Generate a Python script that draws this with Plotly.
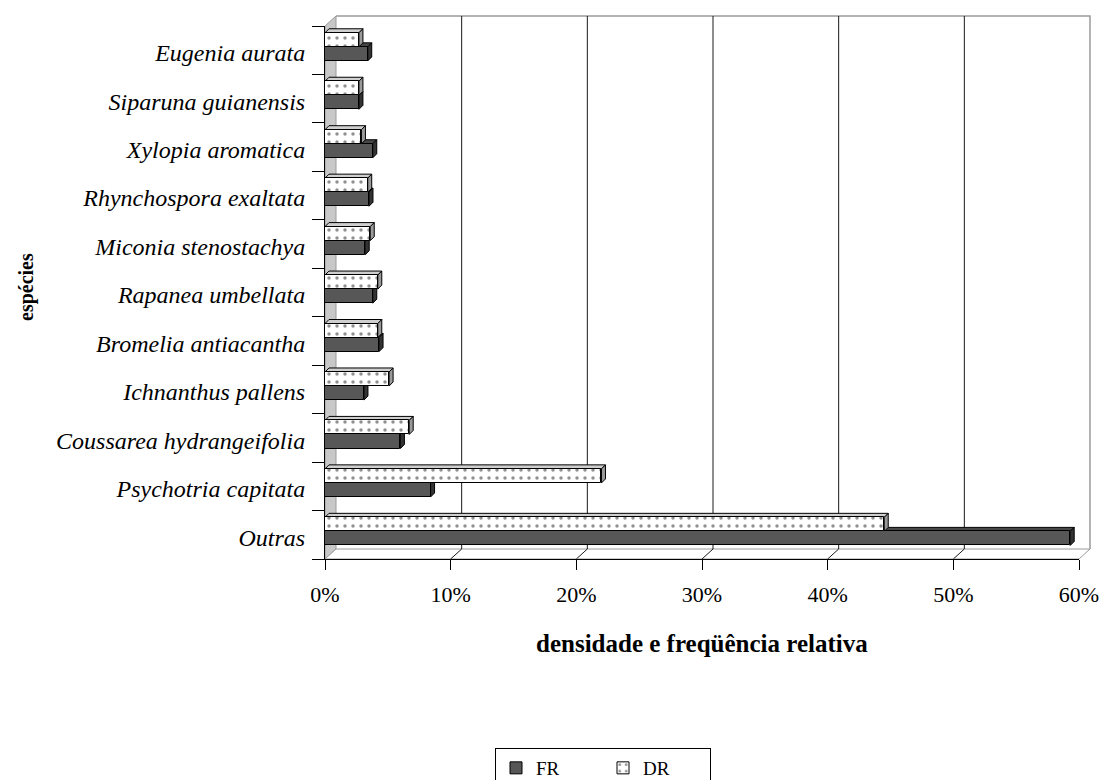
import plotly.graph_objects as go

# Species (bottom to top) and relative values in %
species = [
    "Outras", "Psychotria capitata", "Coussarea hydrangeifolia", "Ichnanthus pallens",
    "Bromelia antiacantha", "Rapanea umbellata", "Miconia stenostachya",
    "Rhynchospora exaltata", "Xylopia aromatica", "Siparuna guianensis", "Eugenia aurata",
]
fr = [59.3, 8.4, 6.0, 3.1, 4.3, 3.8, 3.2, 3.5, 3.8, 2.7, 3.4]
dr = [44.5, 22.0, 6.7, 5.1, 4.2, 4.2, 3.6, 3.4, 2.9, 2.7, 2.7]
x_ticks = [0, 10, 20, 30, 40, 50, 60]
x_tick_text = ["0%", "10%", "20%", "30%", "40%", "50%", "60%"]

# page / plot-area geometry (px)
W, H = 1102, 780
ML, MR, MT, MB = 325, 23, 26, 221
PW, PH = W - ML - MR, H - MT - MB
XMAX = 60
N = len(species)

# 3D depth of the bars and of the chart walls
BDX = 4 * XMAX / PW
BDY = 4 * N / PH
WDX = 11 / PW
WDY = 10 / PH

BAR_W = 0.29
FR_OFF = -0.075
DR_OFF = 0.215
pos = list(range(N))

FONT = "Liberation Serif"
FR_COLOR = "#575757"
FR_TOP = "#474747"
FR_SIDE = "#333333"
DR_TOP = "#cfcfcf"
DR_SIDE = "#9a9a9a"
WALL_LINE = "#9a9a9a"

fig = go.Figure()
fig.add_trace(go.Bar(
    name="FR", orientation="h", x=fr, y=[p + FR_OFF for p in pos], width=BAR_W,
    marker=dict(color=FR_COLOR, line=dict(color="black", width=1)),
))
fig.add_trace(go.Bar(
    name="DR", orientation="h", x=dr, y=[p + DR_OFF for p in pos], width=BAR_W,
    marker=dict(color="white", line=dict(color="black", width=1),
                pattern=dict(shape=".", fgcolor="#222222", bgcolor="white",
                             size=8, solidity=0.15)),
))

shapes = []

# left wall
shapes.append(dict(type="path", xref="paper", yref="paper", layer="below",
                   path=f"M0,0 L0,1 L{WDX},{1 + WDY} L{WDX},{WDY} Z",
                   fillcolor="#c8c8c8", line=dict(color=WALL_LINE, width=1)))
# floor
shapes.append(dict(type="path", xref="paper", yref="paper", layer="below",
                   path=f"M0,0 L{WDX},{WDY} L{1 + WDX},{WDY} L1,0 Z",
                   fillcolor="white", line=dict(color=WALL_LINE, width=1)))
# back wall outline
shapes.append(dict(type="path", xref="paper", yref="paper", layer="below",
                   path=f"M{WDX},{1 + WDY} L{1 + WDX},{1 + WDY} L{1 + WDX},{WDY}",
                   line=dict(color=WALL_LINE, width=1.5)))
# grid lines on the back wall running down to the floor
for t in x_ticks[1:-1]:
    fx = t / XMAX
    shapes.append(dict(type="path", xref="paper", yref="paper", layer="below",
                       path=f"M{fx + WDX},{1 + WDY} L{fx + WDX},{WDY} L{fx},0",
                       line=dict(color="#1a1a1a", width=1)))


def faces(vals, off, top_col, side_col):
    out = []
    for p, v in zip(pos, vals):
        lo = p + off - BAR_W / 2
        hi = p + off + BAR_W / 2
        out.append(dict(type="path", xref="x", yref="y", layer="below",
                        path=f"M0,{hi} L{BDX},{hi + BDY} L{v + BDX},{hi + BDY} L{v},{hi} Z",
                        fillcolor=top_col, line=dict(color="black", width=1)))
        out.append(dict(type="path", xref="x", yref="y", layer="below",
                        path=f"M{v},{lo} L{v},{hi} L{v + BDX},{hi + BDY} L{v + BDX},{lo + BDY} Z",
                        fillcolor=side_col, line=dict(color="black", width=1)))
    return out


shapes += faces(fr, FR_OFF, FR_TOP, FR_SIDE)
shapes += faces(dr, DR_OFF, DR_TOP, DR_SIDE)

annotations = [
    dict(text="<b>densidade e freqüência relativa</b>", xref="paper", yref="paper",
         x=(702 - ML) / PW, y=(MT + PH - 643) / PH, showarrow=False,
         xanchor="center", yanchor="middle", font=dict(family=FONT, size=25, color="black")),
    dict(text="<b>espécies</b>", xref="paper", yref="paper", textangle=-90,
         x=(26 - ML) / PW, y=(MT + PH - 287) / PH, showarrow=False,
         xanchor="center", yanchor="middle", font=dict(family=FONT, size=20, color="black")),
]

fig.update_layout(
    width=W, height=H,
    margin=dict(l=ML, r=MR, t=MT, b=MB, autoexpand=False),
    paper_bgcolor="white", plot_bgcolor="white",
    barmode="overlay", bargap=0,
    shapes=shapes, annotations=annotations,
    font=dict(family=FONT, color="black"),
    legend=dict(orientation="h", x=(603 - ML) / PW, xanchor="center",
                y=(MT + PH - 748) / PH, yanchor="top",
                bordercolor="black", borderwidth=1, bgcolor="white",
                font=dict(family=FONT, size=19, color="black"),
                entrywidth=62, itemwidth=30, traceorder="normal"),
    showlegend=True,
)
fig.update_xaxes(
    range=[0, XMAX], tickvals=x_ticks, ticktext=x_tick_text, ticks="outside", ticklen=10,
    tickcolor="black", showline=True, linecolor="black", linewidth=1,
    showgrid=False, zeroline=False, ticklabelstandoff=6,
    tickfont=dict(family=FONT, size=22, color="black"),
)
fig.update_yaxes(
    range=[-0.5, N - 0.5], tickvals=[p - 0.05 for p in pos], ticktext=species,
    ticks="", showline=True, linecolor="black", linewidth=1,
    showgrid=False, zeroline=False, ticklabelstandoff=14,
    minor=dict(tick0=-0.5, dtick=1, ticks="outside", ticklen=12, tickcolor="black", showgrid=False),
    tickfont=dict(family=FONT, size=24, color="black", style="italic"),
)

fig.write_html("out.html")
